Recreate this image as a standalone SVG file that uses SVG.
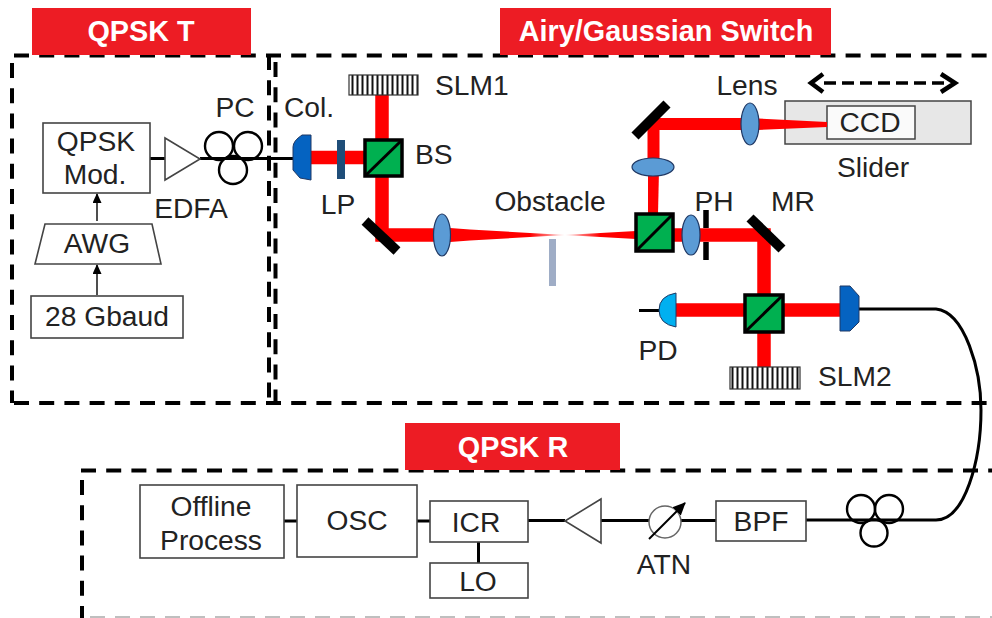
<svg xmlns="http://www.w3.org/2000/svg" width="992" height="618" viewBox="0 0 992 618">
<style>
text{font-family:"Liberation Sans",Arial,sans-serif;font-size:28.2px;fill:#222;text-anchor:middle}
.s{text-anchor:start}
.t{font-weight:bold;fill:#fff;font-size:28.8px}
.tag{fill:#ed1c24}
.box{fill:#fff;stroke:#444;stroke-width:1.6}
.dash{fill:none;stroke:#000;stroke-width:4;stroke-dasharray:15 10.2}
.beam{fill:none;stroke:#f00;stroke-width:13.5}
.taper{fill:#f00;stroke:none}
.wire{fill:none;stroke:#000;stroke-width:3}
.thin{fill:none;stroke:#222;stroke-width:1.6}
.lens{fill:#5b9bd5;stroke:#1f3864;stroke-width:1.2}
.cube{fill:#00b050;stroke:#000;stroke-width:3.5}
.mirror{stroke:#000;stroke-width:10;fill:none}
.col{fill:#0563c1;stroke:#1f3864;stroke-width:1}
.ring{fill:none;stroke:#000;stroke-width:2.4}
.slm{fill:url(#st);stroke:#333;stroke-width:1.2}
</style>
<defs>
<pattern id="st" width="5" height="10" patternUnits="userSpaceOnUse">
<rect width="5" height="10" fill="#fff"/><rect x="1.5" width="2" height="10" fill="#111"/>
</pattern>
<linearGradient id="glint" gradientUnits="userSpaceOnUse" x1="530" y1="0" x2="600" y2="0">
<stop offset="0" stop-color="#f00"/><stop offset="0.5" stop-color="#ffd8d8"/><stop offset="1" stop-color="#f00"/>
</linearGradient>
<marker id="ah" markerWidth="10" markerHeight="9" refX="9" refY="4.5" orient="auto" markerUnits="userSpaceOnUse">
<path d="M0,0L10,4.5L0,9Z" fill="#000"/>
</marker>
<marker id="ahb" markerWidth="13" markerHeight="12" refX="12" refY="6" orient="auto" markerUnits="userSpaceOnUse">
<path d="M0,0L13,6L0,12Z" fill="#000"/>
</marker>
</defs>

<g id="regions">
<path class="dash" d="M14,55.500H992"/>
<path class="dash" d="M14,403H992"/>
<path class="dash" d="M81,470.500H992"/>
<path class="dash" d="M12,63V403"/>
<path class="dash" d="M269,55V403"/>
<path class="dash" d="M275.500,62V403"/>
<path class="dash" d="M82,480V618"/>
<path d="M90,617H992" fill="none" stroke="#aaa" stroke-width="1.500" stroke-dasharray="15 10"/>
</g>

<g id="slider"><rect x="785" y="101" width="186" height="43" fill="#e7e7e7" stroke="#444" stroke-width="1.500"/><text x="873" y="177">Slider</text></g>
<g id="ccd"><rect x="827" y="106" width="88" height="33" fill="#fafafa" stroke="#444" stroke-width="1.500"/><text x="870" y="132">CCD</text></g>

<g id="connectors">
<path class="beam" d="M382,95V235H436"/>
<path class="beam" d="M311,157.500H364"/>
<polygon class="taper" points="450,228 470,229.500 565,235 470,240.500 450,242" style="fill:url(#glint)"/>
<polygon class="taper" points="565,235 636,231 636,239" style="fill:url(#glint)"/>
<polygon class="taper" points="648,214 648,170 659,170 658,214"/>
<path d="M653.500,158V124H745" fill="none" stroke="#f00" stroke-width="12"/>
<polygon class="taper" points="758,118.500 827,122 827,127 758,130"/>
<path class="beam" d="M673,235H684"/>
<path class="beam" d="M698,235H764V295"/>
<path class="beam" d="M764,332V367"/>
<path class="beam" d="M676,310H745"/>
<path class="beam" d="M783,310H840"/>
<path class="wire" d="M150,158.500H165"/>
<path class="wire" d="M200,158.500H293"/>
<path class="wire" d="M639,310.500H659"/>
<path class="wire" d="M859,309H936C965,312 981,370 981,410C981,460 965,520 936,520H806"/>
<path class="wire" d="M681,520.500H716"/>
<path class="wire" d="M601,520.500H649"/>
<path class="wire" d="M528,520.500H565"/>
<path class="wire" d="M417,521H430"/>
<path class="wire" d="M284,521H297"/>
<path class="wire" d="M478.500,542V563"/>
<path class="thin" marker-end="url(#ah)" d="M97,221V194"/>
<path class="thin" marker-end="url(#ah)" d="M97,295V265"/>
<path d="M824,83H945" fill="none" stroke="#000" stroke-width="3.500" stroke-dasharray="12 6"/>
<path d="M823,74L811,83L823,92M941,74L955,83L941,92" fill="none" stroke="#000" stroke-width="4.500"/>
</g>

<g id="tag-t"><rect class="tag" x="32" y="8" width="219" height="47"/><text class="t" x="141" y="41">QPSK T</text></g>
<g id="tag-switch"><rect class="tag" x="500" y="8" width="331" height="47"/><text class="t" x="666" y="41">Airy/Gaussian Switch</text></g>
<g id="tag-r"><rect class="tag" x="405" y="423" width="215" height="47"/><text class="t" x="513" y="457">QPSK R</text></g>

<g id="qpsk-mod"><rect class="box" x="43" y="123" width="107" height="70"/><text x="96" y="151">QPSK</text><text x="95" y="184">Mod.</text></g>
<g id="edfa"><polygon class="box" points="165,138 165,180 200,159" style="fill:none"/><text x="191" y="218">EDFA</text></g>
<g id="pc1"><circle class="ring" cx="219" cy="146" r="14"/><circle class="ring" cx="248" cy="146" r="14"/><circle class="ring" cx="233" cy="170" r="14"/><text x="235" y="117">PC</text></g>
<g id="awg"><polygon class="box" points="45,224 152,224 161,264 35,264"/><text x="97" y="253">AWG</text></g>
<g id="gbaud"><rect class="box" x="31" y="296" width="152" height="42"/><text x="107" y="326">28 Gbaud</text></g>
<g id="col1"><path class="col" d="M311,135H302Q293,141 293,147V170L300,178L311,180Z"/><text class="s" x="284" y="117">Col.</text></g>
<g id="lp"><rect x="337" y="140" width="8" height="39" fill="#1f4e79"/><text x="338" y="214">LP</text></g>
<g id="bs1"><rect class="cube" x="365" y="140" width="37" height="36"/><path d="M365,176L402,140" stroke="#000" stroke-width="3"/><text class="s" x="415" y="164">BS</text></g>
<g id="slm1"><rect class="slm" x="349" y="75" width="69" height="20"/><text class="s" x="435" y="95">SLM1</text></g>
<g id="mirror1"><path class="mirror" d="M365,221L397,251"/></g>
<g id="lens1"><ellipse class="lens" cx="442" cy="235" rx="8.500" ry="21"/></g>
<g id="obstacle"><rect x="549" y="239" width="7" height="47" fill="#9fadc6"/><text x="550" y="211">Obstacle</text></g>
<g id="bs2"><rect class="cube" x="636" y="214" width="37" height="37"/><path d="M636,251L673,214" stroke="#000" stroke-width="3"/></g>
<g id="lens2"><ellipse class="lens" cx="653" cy="167" rx="21" ry="9"/></g>
<g id="mirror2"><path class="mirror" d="M635,136L667,104"/></g>
<g id="lens3"><ellipse class="lens" cx="750" cy="124" rx="9" ry="21"/><text x="747" y="95">Lens</text></g>
<g id="lens4"><ellipse class="lens" cx="691" cy="235" rx="9" ry="20"/></g>
<g id="ph"><path d="M706,210V228M706,242V260" stroke="#000" stroke-width="5.500"/><text x="714" y="211">PH</text></g>
<g id="mr"><path class="mirror" d="M750,218L782,249"/><text x="793" y="211">MR</text></g>
<g id="bs3"><rect class="cube" x="745" y="295" width="38" height="37"/><path d="M745,332L783,295" stroke="#000" stroke-width="3"/></g>
<g id="slm2"><rect class="slm" x="730" y="367" width="70" height="22"/><text class="s" x="818" y="386">SLM2</text></g>
<g id="col2"><path class="col" d="M840,286H850L859,296V322L850,331H840Z"/></g>
<g id="pd"><path d="M676,293V327Q659,324 659,310Q659,296 676,293Z" fill="#00b0f0" stroke="#1f3864"/><text x="658" y="360">PD</text></g>
<g id="pc2"><circle class="ring" cx="861" cy="509" r="14"/><circle class="ring" cx="889" cy="509" r="14"/><circle class="ring" cx="874" cy="533" r="13.500"/></g>
<g id="bpf"><rect class="box" x="716" y="501" width="90" height="40"/><text x="761" y="531">BPF</text></g>
<g id="atn"><circle cx="665" cy="522" r="16" fill="#fff" stroke="#666" stroke-width="1.500"/><path d="M649,539L685,503" fill="none" stroke="#000" stroke-width="2" marker-end="url(#ahb)"/><text x="664" y="574">ATN</text></g>
<g id="amp"><polygon class="box" points="565,521 601,499 601,543"/></g>
<g id="icr"><rect class="box" x="430" y="501" width="98" height="41"/><text x="476" y="532">ICR</text></g>
<g id="lo"><rect class="box" x="430" y="563" width="98" height="35"/><text x="478" y="591">LO</text></g>
<g id="osc"><rect class="box" x="297" y="485" width="120" height="72"/><text x="357" y="530">OSC</text></g>
<g id="offline"><rect class="box" x="140" y="485" width="144" height="73"/><text x="211" y="516">Offline</text><text x="211" y="550">Process</text></g>
</svg>
